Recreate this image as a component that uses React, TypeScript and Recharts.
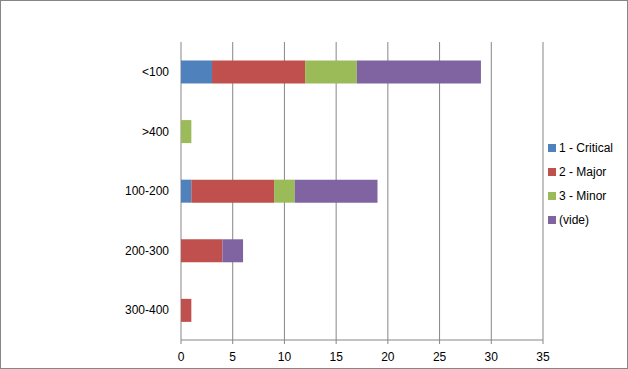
import { Bar, BarChart, CartesianGrid, XAxis, YAxis } from 'recharts'

const categories = ['<100', '>400', '100-200', '200-300', '300-400']
const critical = [3, 0, 1, 0, 0]
const major = [9, 0, 8, 4, 1]
const minor = [5, 1, 2, 0, 0]
const vide = [12, 0, 8, 2, 0]
const xTicks = [0, 5, 10, 15, 20, 25, 30, 35]

const series = [
	{ key: 'critical', name: '1 - Critical', color: '#4F81BD' },
	{ key: 'major', name: '2 - Major', color: '#C0504D' },
	{ key: 'minor', name: '3 - Minor', color: '#9BBB59' },
	{ key: 'vide', name: '(vide)', color: '#8064A2' }
]

const data = categories.map((name, i) => ({
	name,
	critical: critical[i],
	major: major[i],
	minor: minor[i],
	vide: vide[i]
}))

const font = 'Liberation Sans, Arial, sans-serif'
const gray = '#868686'

// legend drawn beside the chart so it doesn't eat into the plot width
function LegendBox() {
	return (
		<div
			style={{
				position: 'absolute',
				left: 547,
				top: 135,
				fontFamily: font,
				fontSize: 12,
				color: '#000'
			}}
		>
			{series.map(s => (
				<div
					key={s.key}
					style={{ display: 'flex', alignItems: 'center', height: 24 }}
				>
					<span
						style={{
							width: 8,
							height: 8,
							background: s.color,
							marginRight: 3,
							display: 'inline-block'
						}}
					/>
					{s.name}
				</div>
			))}
		</div>
	)
}

export default function App() {
	return (
		<div
			style={{
				position: 'absolute',
				left: 0,
				top: 0,
				width: 628,
				height: 369,
				border: `1px solid ${gray}`,
				boxSizing: 'border-box',
				background: '#fff'
			}}
		>
			<div style={{ position: 'absolute', left: -1, top: -1 }}>
				<BarChart
					width={628}
					height={369}
					data={data}
					layout='vertical'
					margin={{ top: 42, right: 85, bottom: 0, left: 0 }}
					barCategoryGap='31%'
				>
					<CartesianGrid horizontal={false} stroke={gray} strokeDasharray='' />
					<XAxis
						type='number'
						domain={[0, 35]}
						ticks={xTicks}
						interval={0}
						height={29}
						tickSize={4}
						tickMargin={8}
						axisLine={{ stroke: gray }}
						tickLine={{ stroke: gray }}
						tick={{ fill: '#000', fontSize: 12, fontFamily: font }}
					/>
					<YAxis
						yAxisId='bounds'
						type='number'
						domain={[0, 5]}
						ticks={[0, 1, 2, 3, 4, 5]}
						width={0}
						tickSize={4}
						tick={false}
						axisLine={{ stroke: gray }}
						tickLine={{ stroke: gray }}
					/>
					<YAxis
						dataKey='name'
						type='category'
						width={181}
						axisLine={false}
						tickLine={false}
						tickSize={4}
						tickMargin={8}
						tick={{ fill: '#000', fontSize: 12, fontFamily: font }}
					/>
					{series.map(s => (
						<Bar
							key={s.key}
							dataKey={s.key}
							name={s.name}
							stackId='a'
							fill={s.color}
							isAnimationActive={false}
						/>
					))}
				</BarChart>
			</div>
			<LegendBox />
		</div>
	)
}
